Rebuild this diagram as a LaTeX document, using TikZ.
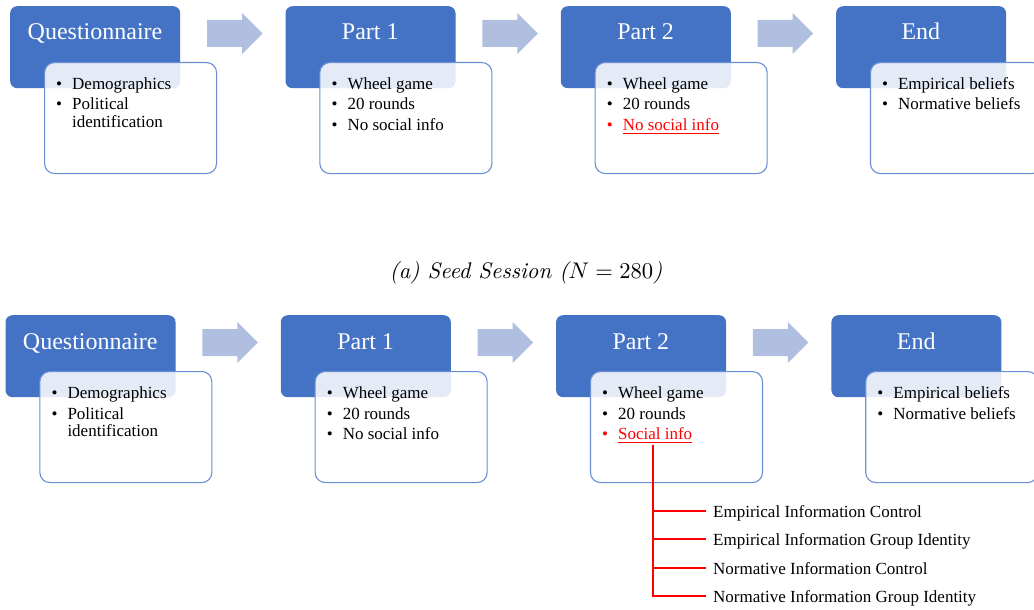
\documentclass[tikz,border=0pt]{standalone}
\usepackage{fontspec}
\newfontfamily\tms{Liberation Serif}
\definecolor{sblue}{HTML}{4472C4}
\definecolor{sarrow}{HTML}{B0BEE0}
\definecolor{sborder}{HTML}{6A8FD2}
\definecolor{sred}{HTML}{FF0000}
\tikzset{
  bluebox/.style={fill=sblue, rounded corners=7pt, draw=none, inner sep=0pt,
    anchor=north west, minimum width=170pt, minimum height=82pt},
  whitebox/.style={draw=sborder, line width=1.1pt, fill=white, fill opacity=0.86,
    rounded corners=10pt, inner sep=0pt, anchor=north west,
    minimum width=172pt, minimum height=111pt},
  stitle/.style={font=\tms\fontsize{24}{28}\selectfont, text=white, inner sep=0pt, anchor=base},
  sitem/.style={font=\tms\fontsize{17}{20}\selectfont, inner sep=0pt, anchor=base west},
  sarrowfill/.style={fill=sarrow, draw=none},
  branchlabel/.style={font=\tms\fontsize{17}{20}\selectfont, inner xsep=7pt, inner ysep=0pt,
    text height=13pt, text depth=1pt, anchor=west},
  branchline/.style={draw=sred, line width=1.5pt},
  uline/.style={draw=sred, line width=1pt},
}
\newcommand\stagebox[2]{%
  \node[bluebox] (#1b) at (0,0) {};
  \node[stitle] (#1t) at (85,34) {#2};
  \node[whitebox] (#1w) at (34,56) {};
}
\newcommand\bulitem[4]{%
  \node[sitem, text=#3] (#1d) at (46,#2) {\textbullet};
  \node[sitem, text=#3] (#1) at (62,#2) {#4};
}
\newcommand\blockarrow[2]{%
  \fill[sarrowfill] (#1,#2+20) -- (#1+35,#2+20) -- (#1+35,#2+13) -- (#1+55.5,#2+33.5)
    -- (#1+35,#2+54) -- (#1+35,#2+47) -- (#1,#2+47) -- cycle;
}
\begin{document}
\begin{tikzpicture}[x=1pt,y=-1pt]
\useasboundingbox (0,0) rectangle (1034,610);

% ---------- top row ----------
\begin{scope}[shift={(10,6)}]
  \stagebox{tq}{Questionnaire}
  \bulitem{tq1}{83}{black}{Demographics}
  \bulitem{tq2}{104}{black}{Political}
  \node[sitem] (tq3) at (62,121) {identification};
\end{scope}
\begin{scope}[shift={(285.3,6)}]
  \stagebox{tp}{Part 1}
  \bulitem{tp1}{83}{black}{Wheel game}
  \bulitem{tp2}{104}{black}{20 rounds}
  \bulitem{tp3}{124}{black}{No social info}
\end{scope}
\begin{scope}[shift={(560.6,6)}]
  \stagebox{tr}{Part 2}
  \bulitem{tr1}{83}{black}{Wheel game}
  \bulitem{tr2}{104}{black}{20 rounds}
  \bulitem{tr3}{124}{sred}{No social info}
  \draw[uline] ([yshift=-3.5pt]tr3.south west) -- ([yshift=-3.5pt]tr3.south east);
\end{scope}
\begin{scope}[shift={(835.9,6)}]
  \stagebox{te}{End}
  \bulitem{te1}{83}{black}{Empirical beliefs}
  \bulitem{te2}{104}{black}{Normative beliefs}
\end{scope}
\blockarrow{207}{0}
\blockarrow{482.3}{0}
\blockarrow{757.6}{0}

% ---------- caption ----------
\node[font=\itshape, scale=2.26, inner sep=0pt] (cap) at (526,272.5) {(a) Seed Session ($N=280$)};

% ---------- bottom row ----------
\begin{scope}[shift={(5.3,315)}]
  \stagebox{bq}{Questionnaire}
  \bulitem{bq1}{83}{black}{Demographics}
  \bulitem{bq2}{104}{black}{Political}
  \node[sitem] (bq3) at (62,121) {identification};
\end{scope}
\begin{scope}[shift={(280.6,315)}]
  \stagebox{bp}{Part 1}
  \bulitem{bp1}{83}{black}{Wheel game}
  \bulitem{bp2}{104}{black}{20 rounds}
  \bulitem{bp3}{124}{black}{No social info}
\end{scope}
\begin{scope}[shift={(555.9,315)}]
  \stagebox{br}{Part 2}
  \bulitem{br1}{83}{black}{Wheel game}
  \bulitem{br2}{104}{black}{20 rounds}
  \bulitem{br3}{124}{sred}{Social info}
  \draw[uline] ([yshift=-3.5pt]br3.south west) -- ([yshift=-3.5pt]br3.south east);
  \coordinate (trunk) at (97.1,129.5);
  \node[branchlabel] (g1) at (150.1,196) {Empirical Information Control};
  \node[branchlabel] (g2) at (150.1,224) {Empirical Information Group Identity};
  \node[branchlabel] (g3) at (150.1,253) {Normative Information Control};
  \node[branchlabel] (g4) at (150.1,281) {Normative Information Group Identity};
  \draw[branchline] (trunk) |- (g4);
  \draw[branchline] (trunk) |- (g1);
  \draw[branchline] (trunk) |- (g2);
  \draw[branchline] (trunk) |- (g3);
\end{scope}
\begin{scope}[shift={(831.2,315)}]
  \stagebox{be}{End}
  \bulitem{be1}{83}{black}{Empirical beliefs}
  \bulitem{be2}{104}{black}{Normative beliefs}
\end{scope}
\blockarrow{202.3}{309}
\blockarrow{477.6}{309}
\blockarrow{752.9}{309}
\end{tikzpicture}
\end{document}
